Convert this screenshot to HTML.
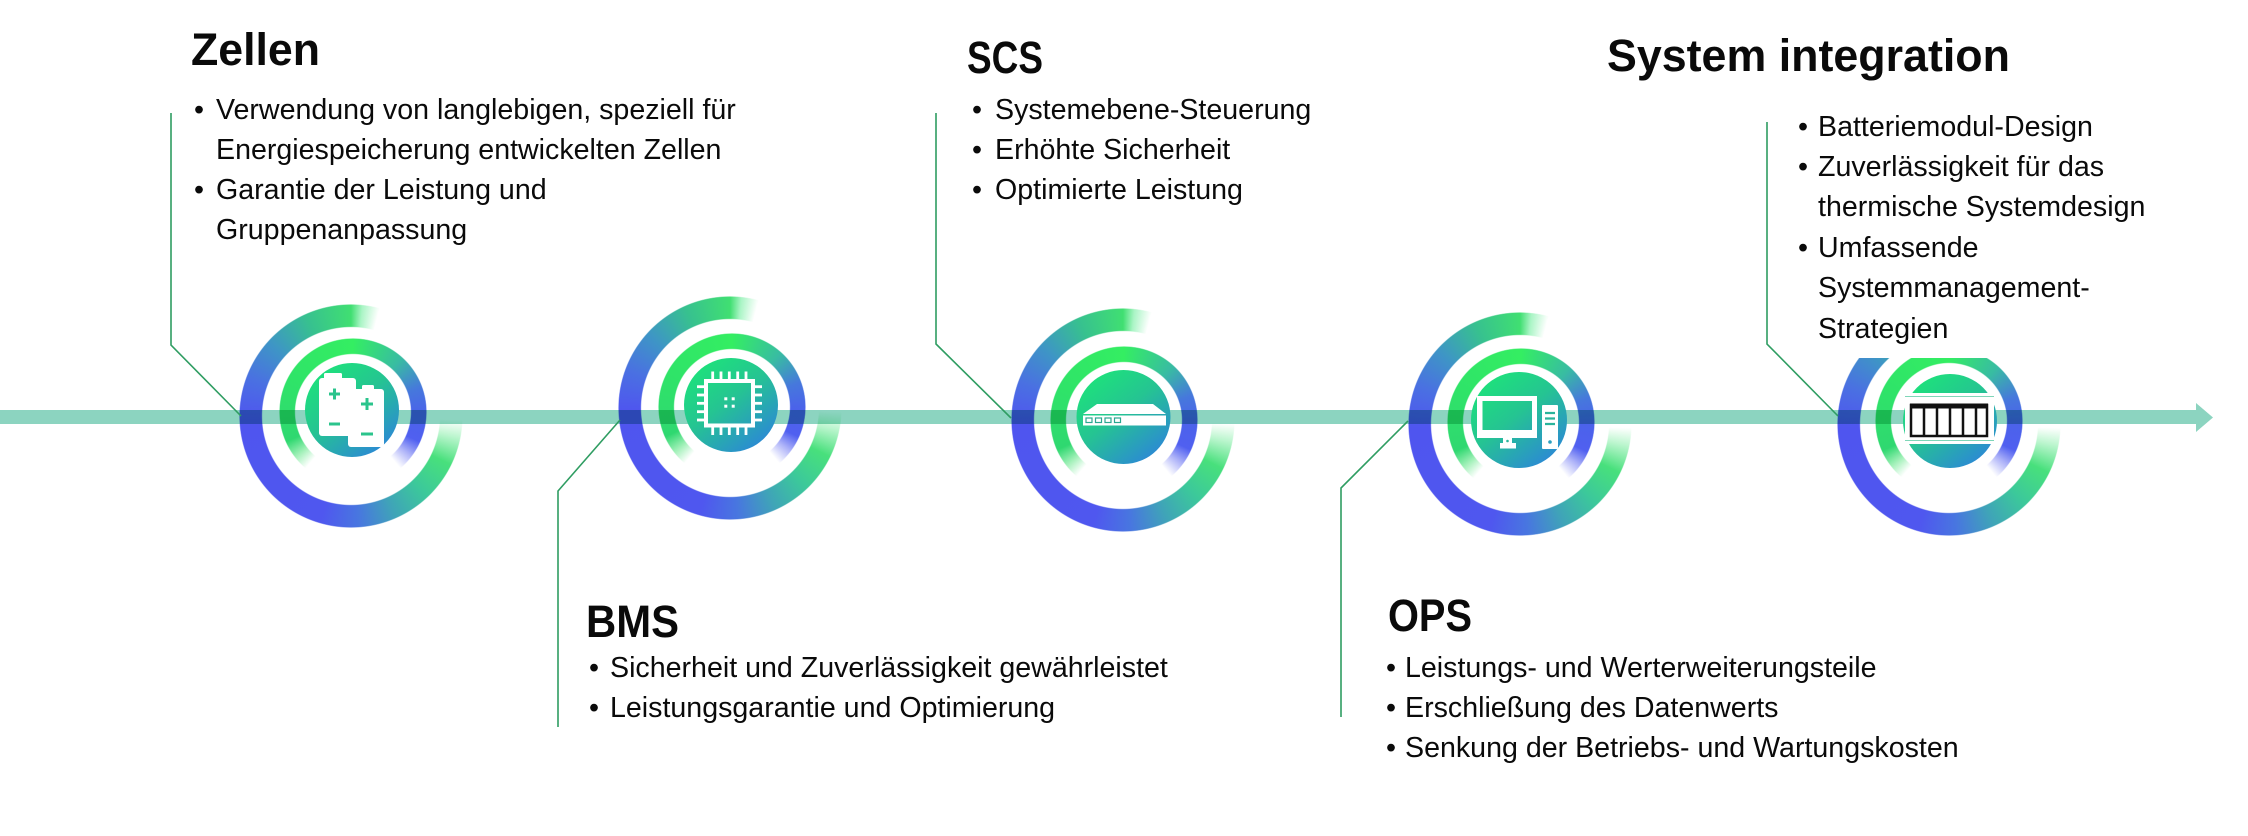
<!DOCTYPE html>
<html>
<head>
<meta charset="utf-8">
<style>
  html,body{margin:0;padding:0;background:#fff;}
  #c{position:relative;width:2248px;height:836px;background:#fff;overflow:hidden;}
  .ro,.rm{position:absolute;border-radius:50%;}
  .ro{width:224px;height:224px;
    background:conic-gradient(from 0deg,
      #40df72 0deg,
      rgba(100,236,150,0.55) 6deg,
      rgba(130,240,170,0) 15deg,
      rgba(130,240,170,0) 92deg,
      rgba(110,235,150,0.45) 101deg,
      #48e07c 116deg,
      #3cc99a 136deg,
      #3fa4b8 156deg,
      #4876e0 176deg,
      #4f57ef 196deg,
      #4f55ef 268deg,
      #4a70e2 290deg,
      #3e95c6 312deg,
      #37c18f 336deg,
      #40df72 360deg);
    -webkit-mask:radial-gradient(circle at 50% 50%, transparent 88.5px, #000 89.5px, #000 111px, transparent 112px);
    mask:radial-gradient(circle at 50% 50%, transparent 88.5px, #000 89.5px, #000 111px, transparent 112px);
  }
  .rm{width:148px;height:148px;
    background:conic-gradient(from 0deg,
      #34ee62 0deg,
      #38bca2 42deg,
      #4678dc 70deg,
      #4b62ea 92deg,
      #5060f0 114deg,
      rgba(95,105,242,0.5) 127deg,
      rgba(130,140,246,0) 140deg,
      rgba(90,230,130,0) 220deg,
      rgba(70,226,115,0.5) 232deg,
      #2fd870 246deg,
      #2fe468 300deg,
      #34ee62 360deg);
    -webkit-mask:radial-gradient(circle at 50% 50%, transparent 57.5px, #000 58.5px, #000 73px, transparent 74px);
    mask:radial-gradient(circle at 50% 50%, transparent 57.5px, #000 58.5px, #000 73px, transparent 74px);
  }
  #bar{position:absolute;left:0;top:410px;width:2197px;height:14px;background:#8cd4c0;mix-blend-mode:multiply;}
  svg{position:absolute;left:0;top:0;}
  .t{font-family:"Liberation Sans",Arial,sans-serif;font-size:28.6px;fill:#0a0a0a;}
  .h{font-family:"Liberation Sans",Arial,sans-serif;font-size:45px;font-weight:700;fill:#0a0a0a;}
</style>
</head>
<body>
<div id="c">
  <!-- outer rings -->
  <div class="ro" style="left:239px;top:304px;"></div>
  <div class="ro" style="left:618px;top:296px;"></div>
  <div class="ro" style="left:1011px;top:308px;"></div>
  <div class="ro" style="left:1408px;top:312px;"></div>
  <div class="ro" style="left:1837px;top:312px;"></div>
  <!-- middle rings -->
  <div class="rm" style="left:279px;top:338px;"></div>
  <div class="rm" style="left:658px;top:333px;"></div>
  <div class="rm" style="left:1050px;top:346px;"></div>
  <div class="rm" style="left:1447px;top:348px;"></div>
  <div class="rm" style="left:1875px;top:347px;"></div>
  <!-- timeline bar -->
  <div id="bar"></div>

  <svg width="2248" height="836" viewBox="0 0 2248 836">
    <defs>
      <linearGradient id="dg" x1="0.15" y1="0.05" x2="0.85" y2="0.95">
        <stop offset="0" stop-color="#1de37a"/>
        <stop offset="0.45" stop-color="#25c492"/>
        <stop offset="1" stop-color="#2c86d8"/>
      </linearGradient>
    </defs>

    <!-- arrow head -->
    <polygon points="2196,403 2213,417.5 2196,432" fill="#8cd4c0"/>

    <!-- white box behind System integration text (covers top of circle 5) -->
    <rect x="1790" y="60" width="360" height="298" fill="#fff"/>

    <!-- discs -->
    <circle cx="352" cy="410" r="47" fill="url(#dg)"/>
    <circle cx="731" cy="405" r="47" fill="url(#dg)"/>
    <circle cx="1123.5" cy="417" r="47" fill="url(#dg)"/>
    <circle cx="1519" cy="420" r="48" fill="url(#dg)"/>
    <circle cx="1950" cy="421" r="47" fill="url(#dg)"/>

    <!-- Icon 1: batteries -->
    <g fill="#fff">
      <rect x="324" y="373" width="18" height="7" rx="1.5"/>
      <rect x="319" y="378" width="37" height="58" rx="3"/>
      <rect x="362" y="385" width="12" height="6" rx="1.5"/>
      <rect x="348" y="389" width="36" height="58" rx="3"/>
    </g>
    <path d="M329,394 H340 M334.5,388.5 V399.5 M329,424 H340 M361,404 H373 M367,398 V410 M361,434 H373" stroke="#2bc48c" stroke-width="3" fill="none"/>

    <!-- Icon 2: chip -->
    <rect x="706" y="381" width="47" height="44.5" fill="none" stroke="#fff" stroke-width="4"/>
    <g fill="#fff">
      <rect x="711.3" y="371.5" width="2.8" height="8"/>
      <rect x="719.6" y="371.5" width="2.8" height="8"/>
      <rect x="727.9" y="371.5" width="2.8" height="8"/>
      <rect x="736.3" y="371.5" width="2.8" height="8"/>
      <rect x="744.6" y="371.5" width="2.8" height="8"/>
      <rect x="711.3" y="427" width="2.8" height="8"/>
      <rect x="719.6" y="427" width="2.8" height="8"/>
      <rect x="727.9" y="427" width="2.8" height="8"/>
      <rect x="736.3" y="427" width="2.8" height="8"/>
      <rect x="744.6" y="427" width="2.8" height="8"/>
      <rect x="697" y="385.3" width="8" height="2.8"/>
      <rect x="697" y="393.6" width="8" height="2.8"/>
      <rect x="697" y="401.9" width="8" height="2.8"/>
      <rect x="697" y="410.3" width="8" height="2.8"/>
      <rect x="697" y="418.6" width="8" height="2.8"/>
      <rect x="754" y="385.3" width="8" height="2.8"/>
      <rect x="754" y="393.6" width="8" height="2.8"/>
      <rect x="754" y="401.9" width="8" height="2.8"/>
      <rect x="754" y="410.3" width="8" height="2.8"/>
      <rect x="754" y="418.6" width="8" height="2.8"/>
      <rect x="724.3" y="397.3" width="3" height="3"/>
      <rect x="731.7" y="397.3" width="3" height="3"/>
      <rect x="724.3" y="404.7" width="3" height="3"/>
      <rect x="731.7" y="404.7" width="3" height="3"/>
    </g>

    <!-- Icon 3: switch -->
    <polygon points="1097,404 1153,404 1166,414 1083,414" fill="#fff"/>
    <rect x="1083" y="415.5" width="83" height="10" fill="#fff"/>
    <g fill="none" stroke="#2aa890" stroke-width="1.2">
      <rect x="1086" y="418" width="6" height="4.5"/>
      <rect x="1095.5" y="418" width="6" height="4.5"/>
      <rect x="1105" y="418" width="6" height="4.5"/>
      <rect x="1114.5" y="418" width="6" height="4.5"/>
    </g>

    <!-- Icon 4: computer -->
    <path fill="#fff" fill-rule="evenodd" d="M1477,396 h60 v42 h-60 z M1482.5,401 v29 h49.5 v-29 z"/>
    <rect x="1503" y="437.5" width="9" height="6" fill="#fff"/>
    <rect x="1500" y="443" width="16" height="5.5" fill="#fff"/>
    <circle cx="1507.5" cy="441" r="1.3" fill="#2ab49c"/>
    <rect x="1542" y="405" width="16" height="44" rx="1" fill="#fff"/>
    <path d="M1545,413 H1555 M1545,418.5 H1555 M1545,424 H1555" stroke="#2ab49c" stroke-width="2.2"/>
    <circle cx="1550" cy="442" r="1.8" fill="#2a9fc0"/>

    <!-- Icon 5: battery module -->
    <rect x="1905" y="393" width="89" height="51" fill="#fff"/>
    <path d="M1905,396.5 H1994 M1905,440.5 H1994" stroke="#7fd6b8" stroke-width="1"/>
    <rect x="1911" y="405" width="76" height="31" fill="#fff" stroke="#111" stroke-width="2.5"/>
    <rect x="1910" y="403.5" width="78" height="5" fill="#111"/>
    <path d="M1924,405 V436 M1937,405 V436 M1950,405 V436 M1963,405 V436 M1976,405 V436" stroke="#111" stroke-width="2.5"/>

    <!-- connector lines -->
    <g fill="none" stroke="#2f9d62" stroke-width="1.6">
      <path d="M171,113 V345 L241,416"/>
      <path d="M620,420 L558,491 V727"/>
      <path d="M936,113 V344 L1011,418"/>
      <path d="M1408,421 L1341,488 V717"/>
      <path d="M1767,122 V344 L1838,416"/>
    </g>

    <!-- Zellen -->
    <text class="h" x="191" y="65" textLength="129" lengthAdjust="spacingAndGlyphs">Zellen</text>
    <text class="t" x="194" y="119">•</text>
    <text class="t" x="216" y="119">Verwendung von langlebigen, speziell für</text>
    <text class="t" x="216" y="159">Energiespeicherung entwickelten Zellen</text>
    <text class="t" x="194" y="199">•</text>
    <text class="t" x="216" y="199">Garantie der Leistung und</text>
    <text class="t" x="216" y="239">Gruppenanpassung</text>

    <!-- SCS -->
    <text class="h" x="967" y="73" textLength="76" lengthAdjust="spacingAndGlyphs">SCS</text>
    <text class="t" x="972" y="119">•</text>
    <text class="t" x="995" y="119">Systemebene-Steuerung</text>
    <text class="t" x="972" y="159">•</text>
    <text class="t" x="995" y="159">Erhöhte Sicherheit</text>
    <text class="t" x="972" y="199">•</text>
    <text class="t" x="995" y="199">Optimierte Leistung</text>

    <!-- System integration -->
    <text class="h" x="1607" y="71" textLength="403" lengthAdjust="spacingAndGlyphs">System integration</text>
    <text class="t" x="1798" y="136">•</text>
    <text class="t" x="1818" y="136">Batteriemodul-Design</text>
    <text class="t" x="1798" y="176">•</text>
    <text class="t" x="1818" y="176">Zuverlässigkeit für das</text>
    <text class="t" x="1818" y="216">thermische Systemdesign</text>
    <text class="t" x="1798" y="257">•</text>
    <text class="t" x="1818" y="257">Umfassende</text>
    <text class="t" x="1818" y="297">Systemmanagement-</text>
    <text class="t" x="1818" y="338">Strategien</text>

    <!-- BMS -->
    <text class="h" x="586" y="637" textLength="93" lengthAdjust="spacingAndGlyphs">BMS</text>
    <text class="t" x="589" y="677">•</text>
    <text class="t" x="610" y="677">Sicherheit und Zuverlässigkeit gewährleistet</text>
    <text class="t" x="589" y="717">•</text>
    <text class="t" x="610" y="717">Leistungsgarantie und Optimierung</text>

    <!-- OPS -->
    <text class="h" x="1388" y="631" textLength="84" lengthAdjust="spacingAndGlyphs">OPS</text>
    <text class="t" x="1386" y="677">•</text>
    <text class="t" x="1405" y="677">Leistungs- und Werterweiterungsteile</text>
    <text class="t" x="1386" y="717">•</text>
    <text class="t" x="1405" y="717">Erschließung des Datenwerts</text>
    <text class="t" x="1386" y="757">•</text>
    <text class="t" x="1405" y="757">Senkung der Betriebs- und Wartungskosten</text>
  </svg>
</div>
</body>
</html>
